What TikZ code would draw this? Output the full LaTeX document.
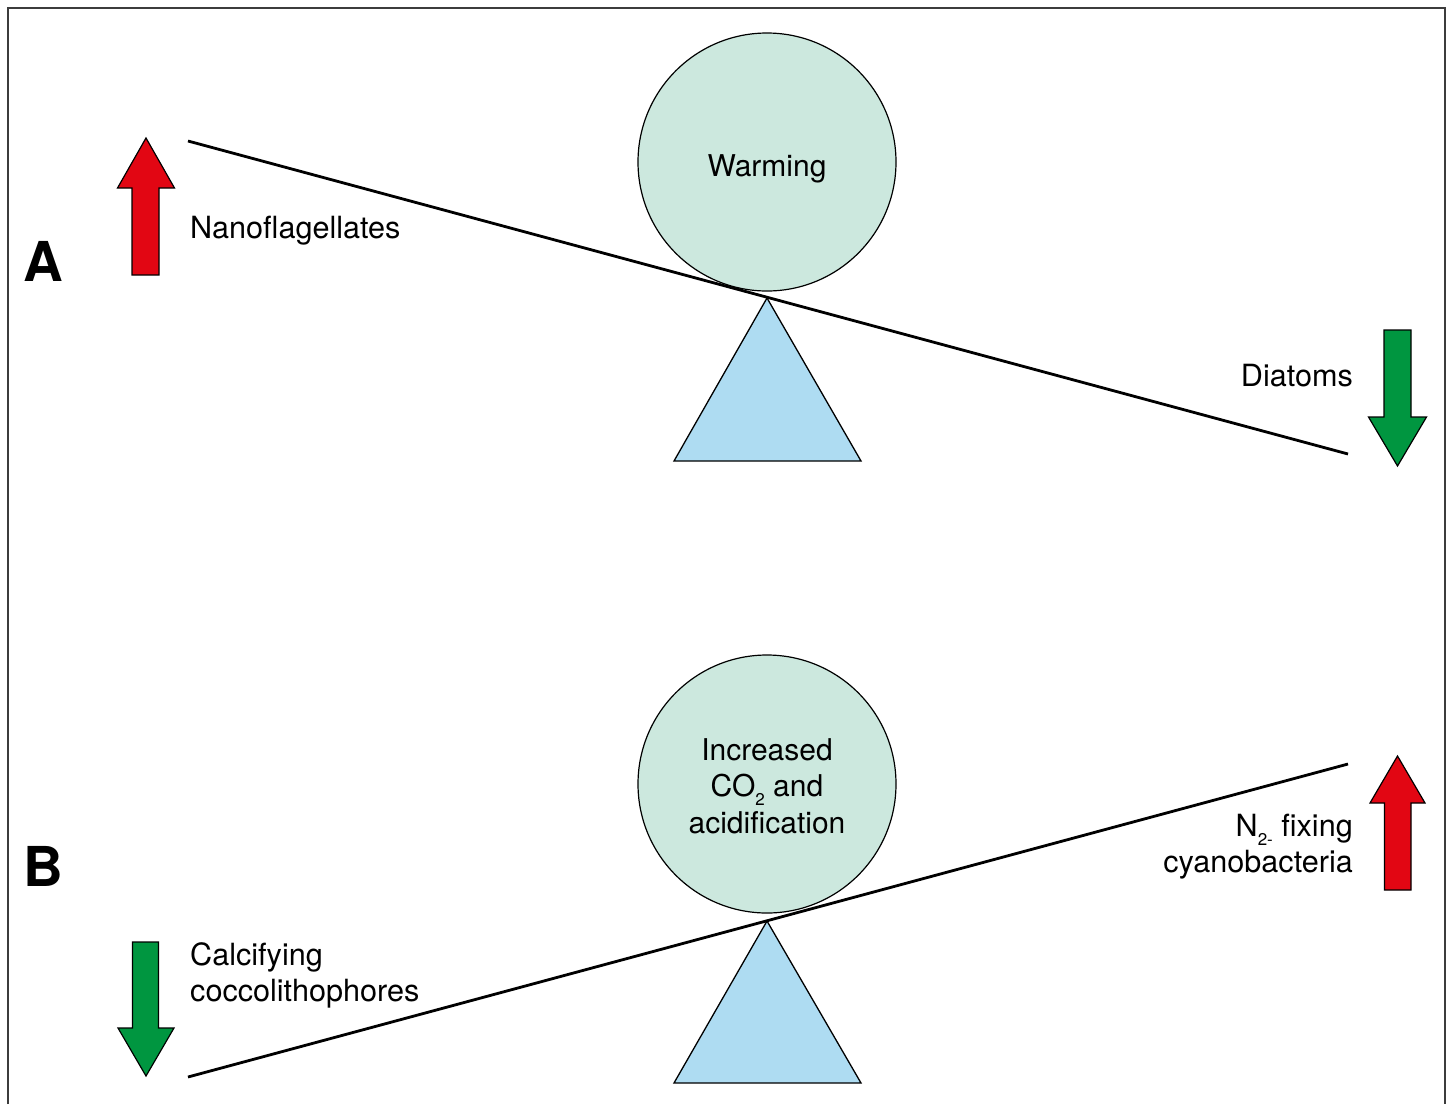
\documentclass[tikz,border=0pt]{standalone}
\usepackage{fontspec}
\setmainfont{TeX Gyre Heros}
\definecolor{mint}{RGB}{204,232,222}
\definecolor{skyb}{RGB}{174,220,242}
\definecolor{upred}{RGB}{226,6,19}
\definecolor{dngreen}{RGB}{0,150,64}
\definecolor{frame}{RGB}{60,60,60}
\newcommand\lowsub[1]{\raisebox{-9pt}{\fontsize{17}{17}\selectfont #1}}
\tikzset{
  weight/.style={circle, draw=black, line width=1.2pt, fill=mint, minimum size=258pt, inner sep=0pt},
  intext/.style={inner sep=0pt, align=center, font=\fontsize{30}{36.5}\selectfont},
  beam/.style={line width=2.8pt, line cap=butt},
  fulcrum/.style={draw=black, line width=1.3pt, fill=skyb},
  arr/.style={draw=black, line width=1.2pt, line join=miter},
  lbl/.style={inner sep=0pt, font=\fontsize{30.6}{36}\selectfont},
  panel/.style={inner sep=0pt, font=\fontsize{55}{60}\selectfont\bfseries},
}
\begin{document}
\begin{tikzpicture}[x=1pt,y=-1pt]
\useasboundingbox (0,0) rectangle (1451,1104);
% frame
\draw[frame, line width=1.5pt] (8,1104) -- (8,8) -- (1445,8) -- (1445,1104);

% ---------- Panel A ----------
\node[panel] (labA) at (43.5,261) {A};
\node[weight] (warm) at (767,162) {};
\node[intext, anchor=base] (warmt) at (767,176) {Warming};
\coordinate (apexA) at (767,298);
\draw[fulcrum] (apexA) -- (861,461) -- (674,461) -- cycle;
\coordinate (beamAl) at (188,141);
\coordinate (beamAr) at (1348,454);
\draw[beam] (beamAl) -- (beamAr);
% red up arrow
\draw[arr, fill=upred] (146,138) -- (174.5,188) -- (159,188) -- (159,275) -- (132,275) -- (132,188) -- (117.5,188) -- cycle;
\node[lbl, anchor=base west] (nano) at (190,238) {Nanoflagellates};
% green down arrow
\draw[arr, fill=dngreen] (1397.5,466) -- (1426.5,417) -- (1411,417) -- (1411,330) -- (1384,330) -- (1384,417) -- (1368.5,417) -- cycle;
\node[lbl, anchor=base east] (diat) at (1353,386) {Diatoms};

% ---------- Panel B ----------
\node[panel] (labB) at (43.5,866) {B};
\node[weight] (co2) at (767,784) {};
\node[intext, anchor=base] (co2t) at (767,833) {Increased\\CO\lowsub{2} and\\acidification};
\coordinate (apexB) at (767,921);
\draw[fulcrum] (apexB) -- (861,1083) -- (674,1083) -- cycle;
\coordinate (beamBl) at (188,1077);
\coordinate (beamBr) at (1348,764);
\draw[beam] (beamBl) -- (beamBr);
% green down arrow
\draw[arr, fill=dngreen] (146,1076) -- (174,1028) -- (158.5,1028) -- (158.5,942) -- (132.5,942) -- (132.5,1028) -- (118,1028) -- cycle;
\node[lbl, anchor=base west, align=left] (calc) at (190,1001) {Calcifying\\coccolithophores};
% red up arrow
\draw[arr, fill=upred] (1397.5,756) -- (1425,803) -- (1411,803) -- (1411,890) -- (1384.5,890) -- (1384.5,803) -- (1370,803) -- cycle;
\node[lbl, anchor=base east, align=right] (nfix) at (1353,872) {N\lowsub{2-} fixing\\cyanobacteria};
\end{tikzpicture}
\end{document}
